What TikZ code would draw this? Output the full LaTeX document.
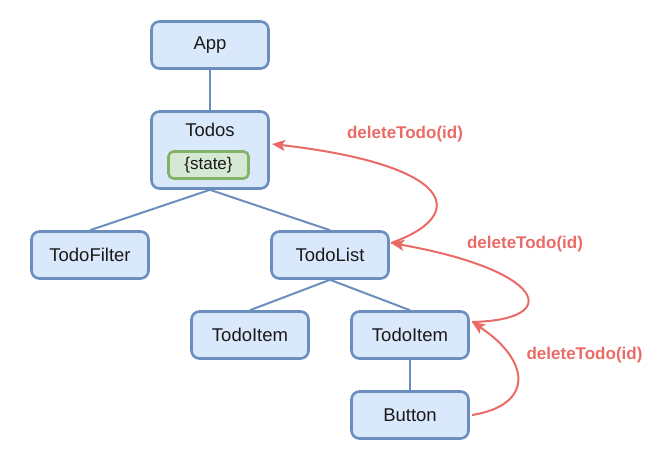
\documentclass[tikz,border=0pt]{standalone}
\usepackage{fontspec}
\setmainfont{Liberation Sans}
\usetikzlibrary{arrows.meta}
\definecolor{boxfill}{HTML}{DAE8FC}
\definecolor{boxline}{HTML}{6C8EBF}
\definecolor{stfill}{HTML}{D5E8D4}
\definecolor{stline}{HTML}{82B366}
\definecolor{evred}{HTML}{EA6B66}
\definecolor{txt}{HTML}{1A1A1A}
\begin{document}
\begin{tikzpicture}[x=1pt,y=-1pt,
  comp/.style={draw=boxline,fill=boxfill,line width=2.6pt,rounded corners=8pt,
    minimum width=117pt,minimum height=47pt,inner sep=0pt,text=txt,
    font=\fontsize{18.5}{20}\selectfont},
  statebox/.style={draw=stline,fill=stfill,line width=2.6pt,rounded corners=5pt,
    minimum width=80pt,minimum height=27pt,inner sep=0pt,text=txt,
    font=\fontsize{17}{19}\selectfont},
  link/.style={draw=boxline,line width=2pt},
  evt/.style={draw=evred,line width=2pt,-{Stealth[length=13pt,width=11pt,inset=3pt]}},
  evlabel/.style={text=evred,font=\fontsize{17}{19}\selectfont\bfseries}]
\useasboundingbox (0,0) rectangle (670,470);
\node[comp] (app) at (210,45) {App};
\node[comp,minimum height=77pt] (todos) at (210,150) {};
\node[text=txt,font=\fontsize{18.5}{20}\selectfont] (todoslbl) at (210,130) {Todos};
\node[statebox] (state) at (208.5,165) {\{state\}};
\node[comp] (filter) at (90,255) {TodoFilter};
\node[comp] (list) at (330,255) {TodoList};
\node[comp] (item1) at (250,335) {TodoItem};
\node[comp] (item2) at (410,335) {TodoItem};
\node[comp] (button) at (410,415) {Button};
\draw[link] (app.south) -- (todos.north);
\draw[link] (todos.south) -- (filter.north);
\draw[link] (todos.south) -- (list.north);
\draw[link] (list.south) -- (item1.north);
\draw[link] (list.south) -- (item2.north);
\draw[link] (item2.south) -- (button.north);
\coordinate (l1) at (391,243);
\coordinate (t1) at (272,144);
\coordinate (i2) at (472,322);
\coordinate (b1) at (472,415);
\draw[evt] (l1) .. controls (470,215) and (455,165) .. (t1);
\draw[evt] (i2) .. controls (565,320) and (545,270) .. (l1);
\draw[evt] (b1) .. controls (535,405) and (530,360) .. (i2);
\node[evlabel] (lab1) at (405,134) {deleteTodo(id)};
\node[evlabel] (lab2) at (525,244) {deleteTodo(id)};
\node[evlabel] (lab3) at (584.5,355) {deleteTodo(id)};
\end{tikzpicture}
\end{document}
